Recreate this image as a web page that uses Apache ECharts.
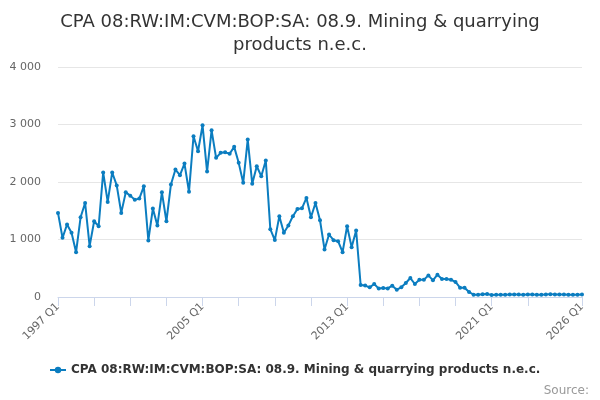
<!DOCTYPE html>
<html>
<head>
<meta charset="utf-8">
<script src="https://cdn.jsdelivr.net/npm/echarts@6/dist/echarts.min.js"></script>
<style>
  html, body { margin: 0; padding: 0; background: #fff; }
  #chart { width: 600px; height: 400px; }
</style>
</head>
<body>
<div id="chart"></div>
<script>
// ============ 数据 ============
const SERIES_NAME = 'CPA 08:RW:IM:CVM:BOP:SA: 08.9. Mining & quarrying products n.e.c.'
const START_YEAR = 1997
const END_YEAR = 2026

// quarterly values, 1997 Q1 .. 2026 Q1
const values = [
  1463, 1029, 1260, 1116, 780, 1386, 1636, 884, 1317, 1230,
  2166, 1653, 2166, 1941, 1463, 1820, 1763, 1693, 1711, 1924,
  983, 1537, 1243, 1820, 1317, 1957, 2217, 2118, 2321, 1830,
  2795, 2535, 2986, 2182, 2899, 2420, 2507, 2517, 2490, 2611,
  2333, 1986, 2738, 1969, 2274, 2101, 2373, 1180, 990, 1406,
  1117, 1243, 1406, 1532, 1543, 1723, 1387, 1636, 1335, 827,
  1087, 988, 971, 780, 1231, 867, 1156, 208, 198, 168,
  225, 146, 156, 150, 197, 127, 168, 243, 330, 226,
  301, 301, 376, 290, 388, 313, 313, 301, 261, 162,
  162, 87, 41, 38, 46, 52, 35, 38, 40, 38,
  42, 45, 42, 40, 45, 42, 38, 40, 45, 50,
  45, 42, 45, 40, 38, 40, 42
]

const categories = []
for (let y = START_YEAR; y <= END_YEAR; y++) {
  for (let q = 1; q <= 4; q++) {
    if (y === END_YEAR && q > 1) break
    categories.push(y + ' Q' + q)
  }
}
const lastIdx = categories.length - 1

const yTicks = [0, 1000, 2000, 3000, 4000]

// ============ 颜色 ============
const COLORS = {
  line: '#0b7dc0',
  title: '#333333',
  label: '#666666',
  grid: '#e6e6e6',
  axis: '#ccd6eb',
  credit: '#999999'
}

const chart = echarts.init(document.getElementById('chart'))

chart.setOption({
  animation: false,
  title: {
    text: 'CPA 08:RW:IM:CVM:BOP:SA: 08.9. Mining & quarrying\nproducts n.e.c.',
    left: 'center',
    top: 6,
    textStyle: {
      fontFamily: 'DejaVu Sans',
      fontSize: 18,
      fontWeight: 'normal',
      color: COLORS.title,
      lineHeight: 23
    }
  },
  legend: {
    data: [SERIES_NAME],
    bottom: 19,
    left: 44,
    itemWidth: 16,
    itemHeight: 8,
    itemGap: 5,
    textStyle: {
      fontFamily: 'DejaVu Sans',
      fontSize: 12,
      fontWeight: 'bold',
      color: COLORS.title
    }
  },
  graphic: [{
    type: 'text',
    right: 11,
    bottom: 3,
    style: {
      text: 'Source:',
      fontFamily: 'DejaVu Sans',
      fontSize: 12,
      fill: COLORS.credit
    }
  }],
  grid: {
    left: 58,
    right: 18,
    top: 67,
    bottom: 103
  },
  xAxis: {
    type: 'category',
    boundaryGap: false,
    data: categories,
    axisLine: { lineStyle: { color: COLORS.axis } },
    axisTick: {
      length: 9,
      lineStyle: { color: COLORS.axis },
      interval: (idx) => (idx % 8 === 0 && idx < 112) || idx === lastIdx
    },
    axisLabel: {
      rotate: 45,
      color: COLORS.label,
      fontFamily: 'DejaVu Sans',
      fontSize: 11,
      margin: 8,
      interval: (idx) => idx % 32 === 0 || idx === lastIdx
    },
    splitLine: { show: false }
  },
  yAxis: {
    type: 'value',
    min: yTicks[0],
    max: yTicks[yTicks.length - 1],
    interval: 1000,
    axisLine: { show: false },
    axisTick: { show: false },
    axisLabel: {
      color: COLORS.label,
      fontFamily: 'DejaVu Sans',
      fontSize: 11,
      margin: 17,
      formatter: (v) => String(v).replace(/\B(?=(\d{3})+(?!\d))/g, ' ')
    },
    splitLine: { lineStyle: { color: COLORS.grid } }
  },
  series: [{
    name: SERIES_NAME,
    type: 'line',
    data: values,
    symbol: 'circle',
    symbolSize: 4,
    showAllSymbol: true,
    itemStyle: { color: COLORS.line },
    lineStyle: { width: 2, color: COLORS.line }
  }]
})
</script>
</body>
</html>
